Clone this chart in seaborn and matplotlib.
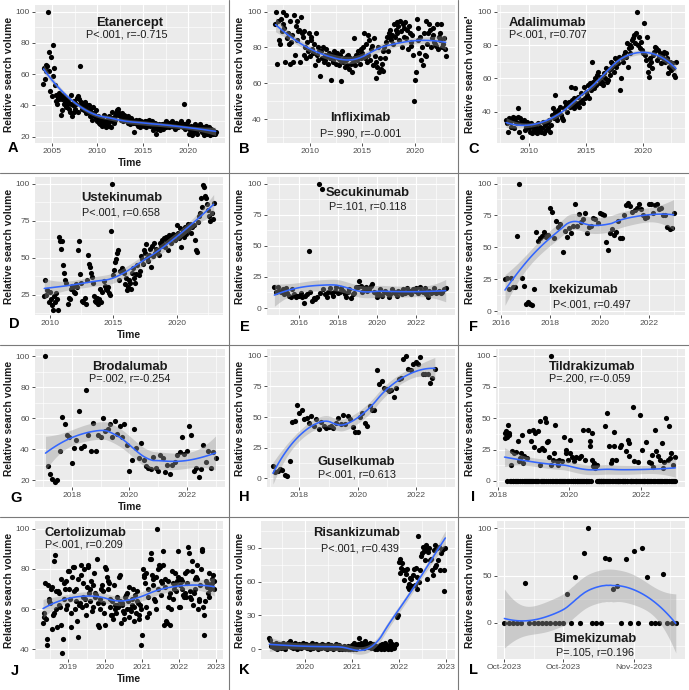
import numpy as np
import pandas as pd
import matplotlib
matplotlib.use("Agg")
import matplotlib.pyplot as plt
import seaborn as sns

# ------------------------------------------------------------------ data
etanercept_start = "2004-02-01"
etanercept = [
    54, 64, 57, 66, 62, 65, 100, 74, 62, 49, 71, 46,
    59, 79, 64, 53, 47, 43, 41, 45, 48, 44, 46, 34,
    37, 44, 47, 41, 45, 42, 39, 40, 44, 42, 38, 36,
    47, 41, 33, 40, 36, 43, 38, 41, 45, 46, 36, 44,
    65, 42, 40, 38, 41, 37, 39, 42, 35, 40, 37, 36,
    40, 33, 38, 36, 31, 39, 34, 35, 33, 37, 32, 30,
    33, 29, 28, 32, 30, 27, 31, 29, 34, 28, 26, 30,
    31, 28, 33, 27, 30, 26, 32, 36, 30, 29, 33, 31,
    35, 37, 38, 36, 34, 33, 31, 35, 32, 30, 34, 33,
    31, 32, 30, 33, 29, 31, 28, 32, 30, 31, 29, 30,
    23, 29, 31, 28, 30, 27, 31, 29, 26, 30, 28, 29,
    27, 29, 30, 26, 28, 30, 29, 31, 27, 28, 29, 30,
    24, 27, 26, 29, 22, 28, 25, 27, 26, 28, 24, 27,
    26, 28, 25, 27, 29, 26, 30, 28, 27, 29, 26, 28,
    28, 30, 27, 29, 26, 28, 25, 29, 27, 28, 26, 27,
    29, 27, 30, 28, 26, 41, 28, 25, 27, 29, 30, 26,
    22, 24, 27, 25, 21, 23, 26, 24, 28, 25, 22, 24,
    26, 25, 27, 28, 24, 23, 26, 25, 21, 24, 27, 25,
    22, 24, 26, 23, 21, 25, 23, 22, 24, 23, 22, 23]

infliximab_start = "2006-10-01"
infliximab = [
    93, 100, 71,
    95, 84, 82, 96, 89, 100, 93, 91, 72, 98, 85, 88,
    82, 71, 95, 83, 87, 72, 98, 76, 92, 95, 84, 89,
    90, 72, 97, 88, 86, 76, 89, 80, 74, 83, 78, 88,
    75, 86, 84, 79, 77, 82, 70, 88, 76, 73, 80, 78,
    64, 78, 74, 80, 72, 76, 73, 79, 75, 71, 77, 74,
    62, 76, 73, 72, 78, 75, 71, 77, 74, 70, 76, 73,
    61, 78, 72, 74, 69, 73, 75, 70, 76, 68, 74, 71,
    66, 72, 85, 74, 70, 76, 73, 78, 75, 71, 79, 74,
    77, 80, 88, 74, 82, 72, 87, 76, 84, 73, 79, 81,
    70, 85, 75, 63, 72, 69, 80, 66, 74, 68, 71, 78,
    67, 80, 74, 83, 86, 78, 88, 85, 90, 84, 87, 82,
    93, 86, 90, 94, 88, 92, 84, 95, 89, 80, 93, 91,
    86, 94, 85, 90, 79, 92, 88, 83, 81, 87, 76, 50,
    62, 66, 96, 84, 91, 77, 86, 73, 80, 70, 88, 76,
    75, 95, 82, 88, 93, 90, 80, 85, 91, 87, 83, 82,
    81, 93, 79, 86, 84, 88, 93, 80, 82, 85, 79, 75]

adalimumab_start = "2008-01-01"
adalimumab = [
    35, 33, 28, 36, 34, 31, 35, 37, 30, 36, 34, 33,
    42, 37, 28, 36, 34, 25, 33, 35, 29, 31, 34, 32,
    30, 28, 33, 27, 31, 29, 32, 28, 30, 27, 33, 29,
    31, 28, 30, 34, 27, 32, 29, 33, 30, 35, 28, 32,
    38, 42, 36, 50, 40, 37, 35, 41, 39, 43, 38, 36,
    35, 42, 46, 44, 40, 45, 46, 43, 55, 47, 44, 42,
    48, 54, 45, 44, 49, 43, 46, 51, 47, 45, 55, 48,
    52, 50, 56, 48, 57, 53, 55, 70, 58, 54, 60, 56,
    62, 64, 59, 57, 61, 58, 56, 63, 60, 66, 58, 59,
    65, 62, 70, 66, 69, 68, 64, 72, 67, 71, 69, 73,
    53, 60, 72, 70, 74, 76, 73, 81, 67, 78, 75, 80,
    79, 83, 84, 86, 81, 87, 100, 80, 85, 78, 82, 77,
    75, 93, 74, 71, 85, 64, 68, 61, 72, 70, 66, 74,
    76, 79, 78, 71, 77, 73, 75, 69, 74, 72, 76, 70,
    75, 72, 71, 63, 67, 70, 65, 69, 66, 62, 61, 70]

ustekinumab_start = "2009-08-01"
ustekinumab = [
    24, 35, 25, 28, 20,
    27, 22, 18, 15, 24, 20, 26, 22, 15, 64, 61, 56,
    61, 45, 40, 35, 33, 19, 23, 22, 29, 31, 30, 27,
    26, 32, 30, 55, 61, 39, 33, 21, 20, 23, 19, 35,
    52, 46, 44, 40, 37, 33, 24, 21, 20, 23, 19, 22,
    29, 20, 27, 34, 31, 29, 28, 30, 26, 25, 68, 100,
    38, 42, 47, 49, 53, 55, 35, 41, 43, 42, 40, 32,
    36, 28, 30, 35, 33, 29, 40, 43, 36, 33, 39, 45,
    38, 41, 51, 49, 46, 55, 53, 59, 50, 48, 52, 56,
    44, 58, 51, 60, 53, 56, 55, 52, 60, 58, 62, 59,
    63, 57, 64, 61, 55, 65, 63, 60, 64, 66, 62, 65,
    72, 67, 63, 70, 57, 65, 68, 64, 71, 66, 69, 73,
    70, 73, 67, 71, 72, 62, 55, 54, 74, 78, 80, 90,
    84, 99, 98, 92, 90, 86, 82, 78, 75, 80, 76, 87]

secukinumab_start = "2014-10-01"
secukinumab = [
    17, 13, 17,
    14, 13, 15, 11, 16, 12, 10, 9, 15, 11, 9, 10,
    10, 12, 9, 4, 10, 11, 46, 13, 6, 8, 7, 9,
    100, 12, 96, 15, 11, 9, 13, 16, 12, 10, 14, 17,
    12, 13, 16, 14, 11, 9, 13, 15, 8, 11, 12, 17,
    17, 22, 18, 13, 16, 17, 14, 15, 18, 19, 13, 12,
    9, 11, 15, 10, 13, 14, 12, 9, 11, 15, 13, 12,
    10, 14, 13, 11, 15, 12, 16, 13, 14, 11, 15, 14,
    16, 12, 17, 14, 13, 16, 11, 9, 14, 12, 13, 16,
    12, 13, 14, 12, 13, 15, 16]

ixekizumab_start = "2016-03-01"
ixekizumab = [
    25, 26, 17, 26, 19, 19, 59, 100, 26, 20,
    6, 7, 6, 5, 17, 62, 55, 57, 59, 62, 58, 60,
    81, 78, 57, 71, 66, 68, 46, 63, 58, 65, 61, 67,
    84, 67, 76, 70, 72, 77, 61, 66, 67, 73, 72, 69,
    77, 76, 75, 54, 48, 61, 64, 60, 62, 71, 57, 57,
    75, 83, 85, 82, 78, 79, 81, 84, 80, 75, 73, 74,
    84, 84, 77, 83, 84, 80, 81, 75, 75, 66, 64, 65,
    77]

brodalumab_start = "2017-02-01"
brodalumab = [
    100, 29, 24, 21, 19, 20, 39, 61, 56, 49, 48,
    31, 41, 46, 65, 41, 42, 78, 49, 39, 57, 39, 49,
    48, 60, 52, 53, 56, 48, 58, 50, 55, 48, 56, 43,
    26, 33, 53, 41, 34, 44, 33, 29, 28, 27, 35, 28,
    26, 36, 34, 25, 30, 24, 30, 32, 36, 38, 48, 37,
    39, 55, 49, 26, 28, 22, 27, 43, 32, 39, 28, 38,
    34]

guselkumab_start = "2017-02-01"
guselkumab = [
    10, 5, 6, 8, 7, 3, 2, 14, 46, 47, 60, 53,
    56, 48, 49, 45, 51, 43, 48, 40, 46, 43, 41, 42,
    43, 41, 45, 49, 44, 52, 44, 51, 48, 42, 38, 38,
    50, 53, 45, 43, 59, 56, 56, 88, 77, 79, 74, 73,
    71, 72, 66, 74, 81, 82, 97, 100, 89, 88, 93, 95,
    93, 99, 85, 85, 85, 78, 82, 89]

tildrakizumab_start = "2018-03-11"
tildrakizumab = [
    34, 38, 40, 0, 35, 45, 37, 38, 0, 13,
    0, 24, 0, 0, 22, 0, 23, 0, 0, 32,
    0, 16, 0, 18, 22, 0, 37, 14, 0, 20,
    0, 0, 0, 18, 0, 0, 40, 0, 0, 32,
    0, 41, 0, 27, 0, 38, 0, 0, 0, 40,
    25, 48, 13, 0, 26, 0, 0, 25, 0, 50,
    0, 47, 31, 32, 0, 19, 0, 13, 100, 0,
    17, 0, 22, 0, 45, 0, 16, 0, 13, 0,
    17, 0, 0, 16, 0, 0, 35, 0, 0, 25,
    22, 0, 17, 0, 0, 33, 22, 0, 19, 0,
    0, 16, 0, 0, 19, 0, 0, 0, 18, 0,
    0, 20, 0, 0, 41, 0, 0, 17, 0, 0,
    0, 41, 0, 0, 28, 32, 0, 38, 17, 12,
    14, 12, 10, 13, 0, 13, 0, 0, 0, 0,
    0, 0, 0, 0, 0, 0, 44, 0, 0, 0,
    54, 0, 0, 28, 0, 14, 0, 17, 0, 28,
    39, 0, 17, 0, 0, 0, 0, 0, 0, 27,
    29, 0, 0, 0, 0, 0, 0, 24, 0, 0,
    33, 20, 30, 0, 0, 0, 0, 59, 0, 16,
    0, 0, 0, 0, 15, 0, 0, 0, 53, 0,
    0, 25, 0, 0, 0, 0, 31, 0, 0, 0,
    15, 0, 0, 14, 0, 21, 0, 11, 0, 41,
    0, 24, 0, 20, 0, 0, 17, 0, 0, 30,
    0, 10, 0, 15, 0, 50, 0, 0, 17, 44,
    0, 18, 0, 22, 0, 13, 0, 0, 19, 0]

certolizumab_start = "2018-04-27"
certolizumab = [
    53, 56, 58, 73, 55, 42, 45, 72, 65, 64, 63, 70, 71, 50, 57, 58, 84, 87,
    60, 69, 51, 69, 62, 68, 61, 75, 52, 38, 45, 73, 65, 70, 60, 74, 62,
    79, 79, 70, 65, 58, 51, 76, 81, 81, 69, 60, 64, 70, 54, 46, 75, 62, 63,
    77, 82, 61, 66, 73, 80, 65, 62, 57, 71, 81, 82, 68, 64, 70, 74, 59, 61,
    72, 78, 66, 68, 67, 85, 63, 52, 51, 60, 65, 70, 72, 63, 69, 58,
    52, 81, 80, 76, 70, 74, 73, 65, 61, 57, 64, 57, 55, 72, 62, 60, 58, 66,
    62, 61, 76, 77, 64, 53, 62, 63, 59, 55, 58, 66, 67, 68, 60, 64, 71, 56,
    60, 59, 62, 65, 70, 54, 61, 67, 58, 64, 69, 63, 57, 55, 62, 60,
    42, 47, 80, 77, 76, 73, 78, 61, 56, 70, 66, 58, 85, 85, 88, 77, 75, 72,
    65, 64, 60, 76, 100, 70, 80, 82, 81, 67, 74, 73, 82, 89, 52, 71, 75, 54,
    53, 61, 74, 66, 52, 68, 60, 79, 73, 65, 70, 78, 72, 69, 74, 76,
    89, 61, 61, 72, 75, 70, 74, 67, 66, 68, 78, 66, 73, 79, 91, 88, 66, 69,
    65, 79, 84, 62, 68, 70, 75, 76, 82, 75, 60, 64, 65, 72, 80, 89, 90, 61,
    57, 47, 64, 74, 71, 73, 68, 66, 78, 70, 72, 75, 73, 77, 74, 70]

risankizumab_start = "2019-03-29"
risankizumab = [
    10, 8, 3, 5, 2, 4, 1, 6, 3, 0, 2, 5, 4, 1, 3, 6, 2, 0, 4, 3,
    5, 6, 3, 7, 2, 4, 1, 5, 3, 6, 2, 0, 4, 5, 3, 1, 2, 4, 6, 3,
    2, 5, 1, 3, 4, 0, 2, 6, 3, 1, 4, 2, 5, 3, 0, 2, 4, 1, 3, 5,
    2, 4, 1, 3, 0, 5, 2, 3, 1, 4, 2, 0, 3, 1, 5, 2, 3, 0, 4, 1,
    2, 0, 1, 3, 0, 2, 1, 0, 3, 1, 0, 2, 4, 0, 6, 1, 3, 0, 2, 5,
    10, 3, 6, 2, 5, 4, 1, 7, 3, 5, 2, 4, 6, 1, 3, 5, 2, 4, 0, 3,
    0, 2, 1, 4, 0, 3, 5, 2, 0, 6, 1, 3, 0, 4, 7, 2, 0, 5, 3, 1, 4, 5,
    29, 30, 77, 80, 68, 72, 76, 70, 61, 70, 67, 71, 55, 58, 53, 63, 62,
    56, 66, 71, 57, 72, 53, 64, 100, 60, 70, 83, 85, 91, 87, 79, 92, 89,
    62, 86, 90, 79, 80, 70, 66, 88, 92, 73, 75, 90, 79, 91, 70, 85, 88,
    89, 70, 52, 90]

bimekizumab_start = "2023-10-01"
bimekizumab = [
    0, 0, 0, 0, 0, 42, 0, 0, 0, 0, 0, 0, 0, 0, 0, 30, 0, 48, 0, 74, 100,
    0, 0, 0, 69, 68, 36, 39, 0, 67, 0, 76, 0, 79, 48, 0, 0, 0, 52, 0, 0, 0]
bimekizumab_tick_days = [0, 14, 31]
bimekizumab_tick_labels = ["Oct-2023", "Oct-2023", "Nov-2023"]

titles = ["Etanercept", "Infliximab", "Adalimumab", "Ustekinumab", "Secukinumab",
          "Ixekizumab", "Brodalumab", "Guselkumab", "Tildrakizumab",
          "Certolizumab", "Risankizumab", "Bimekizumab"]
stats = ["P<.001, r=-0.715", "P=.990, r=-0.001", "P<.001, r=0.707",
         "P<.001, r=0.658", "P=.101, r=0.118", "P<.001, r=0.497",
         "P=.002, r=-0.254", "P<.001, r=0.613", "P=.200, r=-0.059",
         "P<.001, r=0.209", "P<.001, r=0.439", "P=.105, r=0.196"]
letters = list("ABCDEFGHIJKL")


# ------------------------------------------------------------------ helpers
def decimal_years(start, n, freq):
    d = pd.date_range(start, periods=n, freq=freq)
    return np.asarray(d.year + (d.dayofyear - 1) / 365.25, float)


def loess(x, y, grid, span=0.75):
    x = np.asarray(x, float)
    y = np.asarray(y, float)
    n = len(x)
    q = int(np.floor(n * span))

    def row(x0):
        d = np.abs(x - x0)
        h = max(np.sort(d)[q - 1], 1e-9)
        u = np.clip(d / h, 0, 1)
        w = (1 - u ** 3) ** 3
        dx = x - x0
        X = np.column_stack([np.ones(n), dx, dx ** 2])
        XtW = X.T * w
        return np.linalg.solve(XtW @ X, XtW)[0]

    L = np.array([row(v) for v in x])
    resid = y - L @ y
    M = np.eye(n) - L
    MtM = M.T @ M
    d1 = np.trace(MtM)
    d2 = np.trace(MtM @ MtM)
    sigma = np.sqrt(resid @ resid / d1)
    df = d1 ** 2 / d2
    G = np.array([row(v) for v in grid])
    fit = G @ y
    se = sigma * np.sqrt((G ** 2).sum(axis=1))
    z = 1.959964
    t = z + (z ** 3 + z) / (4 * df) + (5 * z ** 5 + 16 * z ** 3 + 3 * z) / (96 * df ** 2)
    return fit, t * se


def minor_between(major, lo, hi):
    major = list(major)
    step0 = major[1] - major[0]
    step1 = major[-1] - major[-2]
    pts = [major[0] - step0 / 2]
    pts += [(a + b) / 2 for a, b in zip(major[:-1], major[1:])]
    pts += [major[-1] + step1 / 2]
    return [p for p in pts if lo < p < hi]


# ------------------------------------------------------------------ build x
series = [
    (decimal_years(etanercept_start, len(etanercept), "MS"), etanercept),
    (decimal_years(infliximab_start, len(infliximab), "MS"), infliximab),
    (decimal_years(adalimumab_start, len(adalimumab), "MS"), adalimumab),
    (decimal_years(ustekinumab_start, len(ustekinumab), "MS"), ustekinumab),
    (decimal_years(secukinumab_start, len(secukinumab), "MS"), secukinumab),
    (decimal_years(ixekizumab_start, len(ixekizumab), "MS"), ixekizumab),
    (decimal_years(brodalumab_start, len(brodalumab), "MS"), brodalumab),
    (decimal_years(guselkumab_start, len(guselkumab), "MS"), guselkumab),
    (decimal_years(tildrakizumab_start, len(tildrakizumab), "7D"), tildrakizumab),
    (decimal_years(certolizumab_start, len(certolizumab), "7D"), certolizumab),
    (decimal_years(risankizumab_start, len(risankizumab), "7D"), risankizumab),
    (np.asarray((pd.date_range(bimekizumab_start, periods=len(bimekizumab), freq="D")
                 - pd.Timestamp(bimekizumab_start)).days, float), bimekizumab),
]

# ------------------------------------------------------------------ layout / style
W, H = 689, 690
panels = [
    dict(r=(35, 5, 225, 143), xl=(2003.16, 2024.03), yl=(16.0, 104.3),
         xt=[2005, 2010, 2015, 2020], yt=[20, 40, 60, 80, 100],
         tp=(0.50, 0.872), sp=(0.483, 0.788), ha="center", time=True, lp=(13, 148)),
    dict(r=(267, 5, 455, 143), xl=(2005.94, 2023.8), yl=(26.6, 103.7),
         xt=[2010, 2015, 2020], yt=[40, 60, 80, 100],
         tp=(0.497, 0.179), sp=(0.497, 0.07), ha="center", time=False, lp=(244, 149)),
    dict(r=(497, 5, 685, 143), xl=(2007.2, 2023.7), yl=(21.2, 104.0),
         xt=[2010, 2015, 2020], yt=[40, 60, 80, 100],
         tp=(0.062, 0.872), sp=(0.062, 0.783), ha="left", time=False, lp=(474, 149)),
    dict(r=(35, 177, 223, 315), xl=(2008.85, 2023.65), yl=(11.3, 104.5),
         xt=[2010, 2015, 2020], yt=[25, 50, 75, 100],
         tp=(0.46, 0.848), sp=(0.46, 0.741), ha="center", time=True, lp=(14.7, 324)),
    dict(r=(267, 177, 455, 315), xl=(2014.37, 2023.97), yl=(-5.6, 105.4),
         xt=[2016, 2018, 2020, 2022], yt=[0, 25, 50, 75, 100],
         tp=(0.537, 0.886), sp=(0.537, 0.788), ha="center", time=False, lp=(245, 327)),
    dict(r=(497, 177, 685, 315), xl=(2015.84, 2023.46), yl=(-3.0, 105.1),
         xt=[2016, 2018, 2020, 2022], yt=[0, 25, 50, 75, 100],
         tp=(0.457, 0.179), sp=(0.502, 0.075), ha="center", time=False, lp=(474, 327)),
    dict(r=(35, 349, 225, 487), xl=(2016.72, 2023.33), yl=(15.5, 104.8),
         xt=[2018, 2020, 2022], yt=[20, 40, 60, 80, 100],
         tp=(0.50, 0.872), sp=(0.50, 0.788), ha="center", time=True, lp=(16, 498)),
    dict(r=(267, 349, 455, 487), xl=(2016.88, 2023.36), yl=(-7.0, 105.4),
         xt=[2018, 2020, 2022], yt=[0, 25, 50, 75, 100],
         tp=(0.475, 0.179), sp=(0.48, 0.087), ha="center", time=False, lp=(244, 497)),
    dict(r=(496, 349, 685, 487), xl=(2017.95, 2023.23), yl=(-5.0, 105.4),
         xt=[2018, 2020, 2022], yt=[0, 25, 50, 75, 100],
         tp=(0.511, 0.872), sp=(0.497, 0.788), ha="center", time=False, lp=(473, 497)),
    dict(r=(35, 521, 223, 659), xl=(2018.1, 2023.19), yl=(35.2, 103.8),
         xt=[2019, 2020, 2021, 2022, 2023], yt=[40, 60, 80, 100],
         tp=(0.053, 0.915), sp=(0.053, 0.831), ha="left", time=True, lp=(14.5, 671)),
    dict(r=(261, 521, 455, 659), xl=(2019.06, 2023.2), yl=(-8.5, 113.6),
         xt=[2020, 2021, 2022, 2023], yt=[0, 30, 60, 90],
         tp=(0.491, 0.915), sp=(0.509, 0.802), ha="center", time=False, lp=(244, 670)),
    dict(r=(497, 521, 685, 659), xl=(-1.76, 43.2), yl=(-38.5, 107.8),
         xt=bimekizumab_tick_days, yt=[0, 50, 100],
         tp=(0.52, 0.143), sp=(0.52, 0.047), ha="center", time=False, lp=(474, 670)),
]
ylabels = ["Relative search volume"] * 12
ylabels[2] = "Relative search volume'"

sns.set_theme(style="darkgrid")
plt.rcParams["font.family"] = ["Liberation Sans", "DejaVu Sans"]

fig = plt.figure(figsize=(W / 100, H / 100), dpi=100)
fig.patch.set_facecolor("white")

grey_bg = "#EBEBEB"
tick_col = "#4D4D4D"

for i, (p, (x, y)) in enumerate(zip(panels, series)):
    l, t, r, b = p["r"]
    ax = fig.add_axes([l / W, 1 - b / H, (r - l) / W, (b - t) / H])
    ax.set_facecolor(grey_bg)
    x = np.asarray(x, float)
    y = np.asarray(y, float)

    sns.scatterplot(x=x, y=y, ax=ax, color="black", s=14, linewidth=0,
                    zorder=3, legend=False)
    grid = np.linspace(x.min(), x.max(), 80)
    fit, band = loess(x, y, grid)
    ax.fill_between(grid, fit - band, fit + band, color="#999999", alpha=0.4,
                    linewidth=0, zorder=4)
    sns.lineplot(x=grid, y=fit, ax=ax, color="#3366FF", linewidth=1.15, zorder=5)

    ax.set_xlim(*p["xl"])
    ax.set_ylim(*p["yl"])
    ax.set_xticks(p["xt"])
    if i == 11:
        ax.set_xticklabels(bimekizumab_tick_labels)
    else:
        ax.set_xticklabels([str(v) for v in p["xt"]])
    ax.set_yticks(p["yt"])
    ax.set_yticklabels([str(v) for v in p["yt"]])
    ax.set_xticks(minor_between(p["xt"], *p["xl"]), minor=True)
    ax.set_yticks(minor_between(p["yt"], *p["yl"]), minor=True)
    ax.grid(which="major", color="white", linewidth=0.85)
    ax.grid(which="minor", color="white", linewidth=0.45)
    ax.set_axisbelow(True)
    ax.tick_params(which="major", length=2.2, width=0.6, color="#333333",
                   labelsize=6.1, labelcolor=tick_col, pad=1.5)
    ax.tick_params(which="minor", length=0)
    ax.tick_params(axis="x", bottom=True)
    ax.tick_params(axis="y", left=True)
    for s in ax.spines.values():
        s.set_visible(False)
    ax.set_xlabel("")
    ax.set_ylabel("")

    ax.text(p["tp"][0], p["tp"][1], titles[i], transform=ax.transAxes,
            ha=p["ha"], va="center", fontsize=9.4, fontweight="bold", color="#1a1a1a",
            zorder=6)
    ax.text(p["sp"][0], p["sp"][1], stats[i], transform=ax.transAxes,
            ha=p["ha"], va="center", fontsize=7.8, color="#1a1a1a", zorder=6)

    col_left = [0, 228, 458][i % 3]
    ylx = col_left + (9.5 if i % 3 == 0 else 11.7)
    fig.text(ylx / W, 1 - ((t + b) / 2) / H, ylabels[i], rotation=90,
             ha="center", va="center", fontsize=7.4, fontweight="bold", color="#1a1a1a")
    if p["time"]:
        fig.text(((l + r) / 2) / W, 1 - (b + 19.5) / H, "Time", ha="center",
                 va="center", fontsize=7.4, fontweight="bold", color="#1a1a1a")
    fig.text(p["lp"][0] / W, 1 - p["lp"][1] / H, letters[i], ha="center",
             va="center", fontsize=10.5, fontweight="bold", color="black")

# panel separators
sep = dict(color="#7a7a7a", linewidth=0.8, transform=fig.transFigure)
for xv in (228.5, 458.5):
    fig.add_artist(plt.Line2D([xv / W, xv / W], [0, 1], **sep))
for yv in (172.5, 344.5, 516.5):
    fig.add_artist(plt.Line2D([0, 1], [1 - yv / H, 1 - yv / H], **sep))

fig.savefig("out.png", dpi=100, facecolor="white")
